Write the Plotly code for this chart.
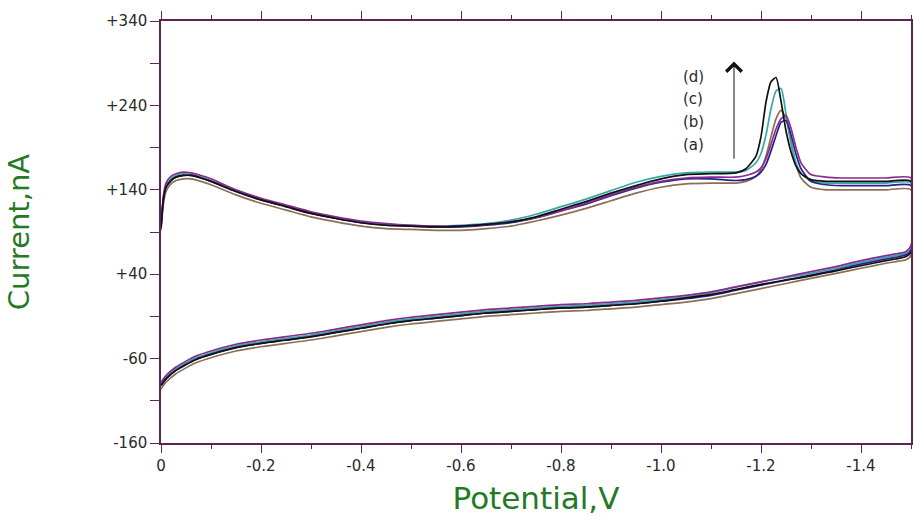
import plotly.graph_objects as go

# Potential grids (V) for the cathodic (forward) and return scans
E_fwd = [0, -0.005, -0.01, -0.02, -0.03, -0.045, -0.06, -0.08, -0.1,
         -0.15, -0.2, -0.25, -0.3, -0.35, -0.4, -0.45, -0.5, -0.55, -0.6,
         -0.65, -0.7, -0.75, -0.8, -0.85, -0.9, -0.95, -1.0, -1.05, -1.1, -1.15,
         -1.17, -1.19, -1.2, -1.21, -1.22, -1.23, -1.24, -1.25, -1.26, -1.27, -1.28,
         -1.3, -1.33, -1.36, -1.4, -1.45, -1.5]
E_rev = [-1.5, -1.49, -1.47, -1.45, -1.4, -1.35, -1.3, -1.25, -1.2, -1.15,
         -1.1, -1.05, -1.0, -0.95, -0.9, -0.85, -0.8, -0.75, -0.7, -0.65,
         -0.6, -0.55, -0.5, -0.45, -0.4, -0.35, -0.3, -0.25, -0.2, -0.15,
         -0.1, -0.07, -0.05, -0.03, -0.01, 0]

# Currents (nA)
i_fwd_a = [95, 130, 143, 151, 155, 157, 157, 154, 150, 138, 128, 120, 112, 106, 101, 98,
           97, 96, 96, 98, 101, 107, 115, 123, 133, 142, 149, 153, 153, 151,
           152, 156, 161, 170, 186, 204, 220, 222, 205, 182, 165,
           150, 146, 145, 145, 145, 145]
i_rev_a = [68, 63, 60, 58, 52, 45, 39, 33, 27, 21, 15, 11, 8, 5, 3, 1, 0, -2, -4, -6,
           -9, -12, -15, -19, -24, -29, -34, -38, -42, -47, -55, -61, -67, -74, -84, -92]

i_fwd_b = [92, 124, 138, 147, 151, 153, 153, 150, 146, 134, 124, 116, 108, 102, 97, 94,
           93, 92, 92, 94, 97, 103, 110, 118, 127, 136, 143, 147, 148, 148,
           150, 156, 164, 180, 203, 224, 234, 225, 196, 170, 154,
           143, 140, 140, 140, 140, 140]
i_rev_b = [62, 57, 55, 53, 47, 41, 35, 29, 23, 17, 11, 7, 4, 1, -1, -3, -4, -6, -8, -10,
           -13, -16, -19, -23, -28, -33, -38, -42, -46, -51, -59, -65, -71, -78, -88, -96]

i_fwd_c = [96, 131, 145, 153, 157, 159, 158, 155, 151, 139, 129, 121, 113, 107, 102, 99,
           98, 97, 98, 100, 104, 111, 120, 129, 139, 149, 156, 160, 161, 161,
           163, 172, 183, 205, 236, 257, 260, 230, 196, 172, 160,
           150, 148, 148, 148, 148, 148]
i_rev_c = [70, 65, 62, 60, 54, 47, 41, 36, 31, 25, 18, 13, 10, 7, 5, 3, 2, 0, -2, -4,
           -7, -10, -13, -17, -22, -27, -32, -36, -40, -45, -53, -59, -65, -72, -82, -90]

i_fwd_d = [95, 129, 143, 151, 155, 157, 157, 154, 150, 138, 128, 120, 112, 106, 101, 98,
           97, 96, 97, 99, 102, 108, 117, 126, 136, 145, 153, 158, 159, 160,
           165, 180, 203, 244, 268, 273, 245, 210, 185, 168, 159,
           152, 150, 150, 150, 150, 150]
i_rev_d = [66, 61, 58, 56, 50, 44, 38, 33, 28, 22, 16, 12, 8, 5, 3, 1, 0, -2, -4, -6,
           -9, -12, -15, -19, -24, -29, -34, -38, -42, -47, -55, -61, -67, -74, -84, -92]

i_fwd_e = [97, 134, 148, 156, 159, 161, 160, 157, 153, 140, 130, 122, 114, 108, 103, 100,
           98, 97, 97, 99, 102, 107, 115, 124, 134, 143, 150, 154, 155, 155,
           157, 161, 166, 177, 194, 212, 224, 228, 213, 190, 172,
           158, 155, 154, 154, 154, 154]
i_rev_e = [74, 67, 64, 62, 56, 49, 43, 37, 31, 25, 19, 15, 12, 9, 7, 5, 4, 2, 0, -2,
           -5, -8, -11, -15, -20, -25, -30, -34, -38, -43, -51, -57, -63, -70, -80, -88]

x_ticks = [0, -0.2, -0.4, -0.6, -0.8, -1.0, -1.2, -1.4]
x_tick_text = ["0", "-0.2", "-0.4", "-0.6", "-0.8", "-1.0", "-1.2", "-1.4"]
y_ticks = [340, 240, 140, 40, -60, -160]
y_tick_text = ["+340", "+240", "+140", "+40", "-60", "-160"]
curve_labels = ["(d)", "(c)", "(b)", "(a)"]
label_y = [274, 247, 220, 193]

series = [
    ("b", i_fwd_b, i_rev_b, "#8c6f55"),
    ("c", i_fwd_c, i_rev_c, "#36a8a8"),
    ("a", i_fwd_a, i_rev_a, "#27208e"),
    ("e", i_fwd_e, i_rev_e, "#8b2b8f"),
    ("d", i_fwd_d, i_rev_d, "#111111"),
]

fig = go.Figure()
for name, fwd, rev, color in series:
    fig.add_trace(go.Scatter(
        x=E_fwd + E_rev, y=fwd + rev, mode="lines", name=name,
        line=dict(color=color, width=1.7, shape="spline", smoothing=0.6),
        showlegend=False, hoverinfo="skip"))

axis_col = "#5e2456"
family = "DejaVu Sans, Liberation Sans, Arial, sans-serif"
tick_font = dict(family=family, size=15, color="#2a2a2a")
title_font = dict(family=family, size=29, color="#237a23")

fig.update_xaxes(
    range=[0, -1.5], tickvals=x_ticks, ticktext=x_tick_text,
    ticks="outside", ticklen=8, tickwidth=1.2, tickcolor=axis_col,
    minor=dict(dtick=0.1, tick0=0, ticks="outside", ticklen=4, tickcolor=axis_col, tickwidth=1.2),
    showline=True, linecolor=axis_col, linewidth=1.5, mirror="ticks",
    showgrid=False, zeroline=False, tickfont=tick_font, automargin=False,
    title=dict(text="Potential,V", font=dict(family=family, size=31, color="#237a23"), standoff=19))
fig.update_yaxes(
    range=[-160, 340], tickvals=y_ticks, ticktext=y_tick_text,
    ticks="outside", ticklen=9, tickwidth=1.2, tickcolor=axis_col,
    minor=dict(dtick=50, tick0=-160, ticks="outside", ticklen=9, tickcolor=axis_col, tickwidth=1.2),
    showline=True, linecolor=axis_col, linewidth=1.5, mirror=True,
    showgrid=False, zeroline=False, tickfont=tick_font, automargin=False,
    title=dict(text="Current,nA", font=title_font, standoff=68))

# Curve labels stacked beside the arrow
for txt, yv in zip(curve_labels, label_y):
    fig.add_annotation(x=-1.064, y=yv, text=txt, showarrow=False,
                       font=dict(family=family, size=15, color="#2a2a2a"))

# Arrow showing increasing peak current
fig.add_annotation(x=-1.146, y=292, ax=-1.146, ay=175, xref="x", yref="y",
                   axref="x", ayref="y", text="", showarrow=True,
                   arrowhead=4, arrowsize=3.0, arrowwidth=1.0, arrowcolor="#111111")

fig.update_layout(
    width=914, height=516,
    margin=dict(l=161, r=3, t=21, b=73),
    paper_bgcolor="white", plot_bgcolor="white",
)

fig.write_html("out.html")
